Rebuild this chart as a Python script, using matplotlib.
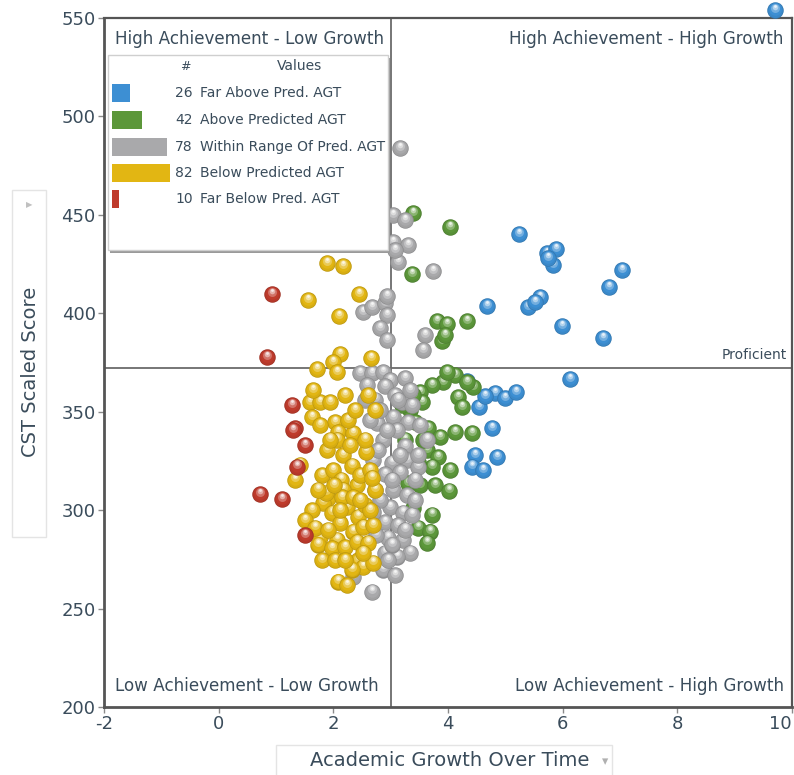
import numpy as np
import matplotlib
matplotlib.use("Agg")
import matplotlib.pyplot as plt
from matplotlib.transforms import ScaledTranslation
from matplotlib.patches import Rectangle
from matplotlib.colors import to_rgb

# ---------------- data ----------------
blue_x = [5.24, 5.73, 5.88, 5.83, 7.04, 6.81, 4.68, 5.40, 5.61, 5.99, 6.70, 6.13, 4.33,
          4.82, 5.00, 5.19, 4.54, 4.77, 4.47, 4.86, 4.42, 4.61, 9.70, 4.65, 5.75, 5.52]
blue_y = [440.1, 430.5, 432.5, 424.4, 421.8, 413.2, 403.6, 403.1, 408.1, 393.4, 387.3, 366.5, 365.5,
          359.4, 356.9, 359.9, 352.3, 341.6, 327.9, 326.9, 321.9, 320.3, 554.0, 357.9, 427.9, 405.6]

green_x = [3.39, 4.04, 3.37, 3.81, 3.98, 4.33, 3.90, 4.12, 3.91, 3.72, 3.51, 4.44, 4.18, 3.55,
           4.24, 3.34, 3.42, 3.65, 4.12, 4.42, 3.25, 3.63, 3.83, 3.72, 4.04, 3.30, 3.51, 3.77,
           4.02, 3.39, 3.72, 3.48, 3.69, 3.63, 4.33, 3.98, 3.86, 3.56, 3.39, 3.20, 3.95, 3.48]
green_y = [450.8, 443.7, 419.8, 396.0, 394.4, 396.0, 385.8, 368.5, 365.0, 363.5, 359.9, 362.5, 357.4, 354.8,
           352.3, 350.8, 344.7, 341.6, 339.6, 339.1, 335.6, 330.5, 326.9, 321.9, 320.3, 313.7, 312.7, 312.7,
           309.7, 301.0, 297.5, 290.9, 288.9, 283.3, 365.0, 370.1, 337.1, 335.6, 358.4, 353.3, 388.9, 324.4]

gray_x = [3.16, 3.04, 3.25, 3.04, 3.30, 3.13, 3.08, 3.74, 2.52, 2.67, 2.90, 2.94, 2.81, 2.94,
          3.60, 3.56, 2.47, 2.67, 2.87, 2.99, 3.25, 2.59, 2.90, 2.73, 3.20, 2.76, 3.04, 3.30,
          2.87, 3.25, 3.63, 2.69, 3.02, 3.29, 3.48, 2.64, 2.90, 3.16, 3.04, 3.29, 2.99, 3.22,
          2.90, 3.13, 2.95, 3.22, 3.34, 2.90, 3.11, 2.87, 2.67, 2.34, 2.94, 3.11, 3.42, 2.81,
          2.55, 3.08, 3.37, 2.78, 3.16, 2.73, 3.37, 3.02, 2.74, 3.08, 3.48, 3.34, 2.64, 2.94,
          3.25, 2.81, 3.42, 3.02, 2.69, 3.13, 3.51, 2.95]
gray_y = [483.8, 449.8, 447.2, 436.1, 434.5, 425.9, 432.0, 421.3, 400.5, 403.1, 405.1, 399.0, 392.4, 386.3,
          388.9, 381.2, 369.6, 369.6, 370.1, 366.0, 367.0, 363.5, 363.0, 355.9, 354.8, 344.2, 347.2, 344.7,
          335.6, 332.5, 335.6, 325.4, 323.9, 325.4, 321.9, 319.3, 318.3, 319.3, 310.2, 307.6, 301.5, 298.5,
          293.9, 292.4, 285.8, 284.8, 278.2, 278.2, 276.2, 269.6, 258.4, 266.0, 408.7, 340.6, 315.3, 350.8,
          355.9, 358.4, 353.3, 330.5, 327.9, 310.2, 297.5, 282.3, 287.3, 267.0, 327.9, 360.9, 345.7, 340.6,
          289.9, 305.1, 305.1, 315.3, 299.0, 355.9, 343.2, 274.6]

yellow_x = [1.89, 2.17, 1.56, 2.45, 2.10, 2.12, 2.00, 2.66, 1.72, 2.06, 2.61, 2.73, 1.59, 1.77,
            1.94, 1.63, 2.03, 2.08, 2.34, 2.06, 1.89, 2.57, 2.17, 2.33, 1.80, 2.00, 1.33, 2.13,
            2.41, 2.17, 2.73, 1.91, 1.82, 1.63, 1.98, 2.24, 2.43, 2.12, 1.77, 2.06, 2.34, 2.52,
            2.69, 1.73, 1.98, 2.20, 2.41, 2.61, 2.43, 2.52, 2.33, 2.69, 2.08, 2.24, 1.87, 1.51,
            1.68, 1.91, 2.52, 2.15, 2.34, 2.55, 2.47, 2.64, 2.26, 1.77, 1.94, 1.65, 2.38, 2.20,
            1.80, 2.03, 2.20, 2.64, 2.55, 1.42, 1.73, 2.01, 2.29, 2.67, 2.47, 2.12]
yellow_y = [425.4, 423.9, 406.6, 409.7, 398.5, 379.2, 375.1, 377.2, 371.6, 370.1, 358.4, 350.8, 354.8, 354.8,
            354.8, 347.2, 344.7, 339.6, 339.1, 335.6, 330.5, 329.5, 327.9, 322.4, 317.8, 320.3, 315.3, 315.3,
            312.7, 310.2, 310.2, 306.1, 303.6, 300.0, 298.5, 301.5, 296.5, 293.4, 286.3, 284.8, 288.9, 291.4,
            292.4, 282.3, 280.7, 281.2, 283.8, 283.3, 274.6, 271.1, 269.6, 273.1, 263.5, 261.9, 308.7, 294.9,
            290.9, 289.9, 278.2, 306.6, 306.6, 302.6, 317.8, 320.3, 345.7, 343.2, 335.6, 360.9, 350.8, 358.4,
            274.6, 274.6, 274.6, 300.0, 335.6, 322.9, 310.2, 312.7, 333.0, 316.3, 305.1, 300.0]

red_x = [0.93, 0.84, 1.28, 1.33, 1.51, 1.37, 0.72, 1.11, 1.51, 1.30]
red_y = [409.7, 377.7, 353.3, 341.6, 333.0, 321.9, 308.1, 305.6, 287.3, 340.6]

group_counts = [26, 42, 78, 82, 10]
group_labels = ["Far Above Pred. AGT", "Above Predicted AGT", "Within Range Of Pred. AGT",
                "Below Predicted AGT", "Far Below Pred. AGT"]
group_colors = ["#3d8fd3", "#5c973a", "#a9a9ab", "#e2b613", "#bf3b2c"]

proficient_cut = 372
growth_cut = 3
x_ticks = [-2, 0, 2, 4, 6, 8, 10]
y_ticks = [200, 250, 300, 350, 400, 450, 500, 550]

# ---------------- figure ----------------
W, H = 794, 775
fig = plt.figure(figsize=(W / 100, H / 100), dpi=100)
ax = fig.add_axes([104 / W, 68 / H, 688 / W, 689 / H])
ax.set_xlim(-2, 10)
ax.set_ylim(200, 550)
ax.set_autoscale_on(False)

txt = "#3a4c5b"


def mix(c, t):
    c = np.array(c)
    return tuple(c + (1 - c) * t)


def spheres(xs, ys, color, z):
    """Draw each point as a shaded ball: dark rim, body, and a soft highlight near the top."""
    base = np.array(to_rgb(color))
    layers = [
        (16.5, 0.0, tuple(base * 0.84)),
        (15.0, 0.5, tuple(base * 0.95)),
        (12.5, 1.4, tuple(base)),
        (9.0, 2.6, mix(base, 0.28)),
        (5.6, 3.6, mix(base, 0.60)),
        (2.8, 4.3, mix(base, 0.88)),
    ]
    for x, y in zip(xs, ys):
        for d, dy, c in layers:
            tr = ax.transData + ScaledTranslation(0, dy / 100, fig.dpi_scale_trans)
            ax.scatter([x], [y], s=(d * 0.72) ** 2, color=c, lw=0, transform=tr,
                       zorder=z, clip_on=False)


spheres(blue_x, blue_y, group_colors[0], 3)
spheres(green_x, green_y, group_colors[1], 4)
spheres(gray_x, gray_y, group_colors[2], 5)
spheres(yellow_x, yellow_y, group_colors[3], 6)
spheres(red_x, red_y, group_colors[4], 7)

# quadrant dividers
ax.axvline(growth_cut, color="#6b6b6b", lw=1.3, zorder=2)
ax.axhline(proficient_cut, color="#6b6b6b", lw=1.3, zorder=2)

# axes styling
for side in ["left", "bottom", "top", "right"]:
    ax.spines[side].set_color("#555555")
    ax.spines[side].set_linewidth(1.6)
ax.spines["left"].set_linewidth(2.0)
ax.spines["bottom"].set_linewidth(2.0)
ax.set_xticks(x_ticks)
ax.set_yticks(y_ticks)
ax.set_xticklabels([str(v) for v in x_ticks])
ax.tick_params(axis="both", colors="#8a8a8a", labelcolor=txt, labelsize=13,
               length=4, width=1, direction="out", pad=2)
# keep the last x label inside the canvas
last = ax.get_xticklabels()[-1]
last.set_transform(last.get_transform() + ScaledTranslation(-0.12, 0, fig.dpi_scale_trans))

# quadrant captions
qfont = dict(fontsize=12.1, color=txt, zorder=8)
ax.text(0.016, 0.983, "High Achievement - Low Growth", transform=ax.transAxes,
        ha="left", va="top", **qfont)
ax.text(0.988, 0.983, "High Achievement - High Growth", transform=ax.transAxes,
        ha="right", va="top", **qfont)
ax.text(0.016, 0.018, "Low Achievement - Low Growth", transform=ax.transAxes,
        ha="left", va="bottom", **qfont)
ax.text(0.988, 0.018, "Low Achievement - High Growth", transform=ax.transAxes,
        ha="right", va="bottom", **qfont)
ax.text(0.992, proficient_cut + 3, "Proficient", transform=ax.get_yaxis_transform(),
        ha="right", va="bottom", fontsize=10, color=txt, zorder=8)


# ---------------- legend panel ----------------
def fx(px):
    return px / W


def fy(py):
    return 1 - py / H


box_l, box_t, box_r, box_b = 108, 55, 388, 250
shadow = Rectangle((fx(box_l + 2), fy(box_b + 3)), (box_r - box_l) / W, (box_b - box_t) / H,
                   transform=fig.transFigure, fc="#9a9a9a", ec="none", zorder=10)
panel = Rectangle((fx(box_l), fy(box_b)), (box_r - box_l) / W, (box_b - box_t) / H,
                  transform=fig.transFigure, fc="white", ec="#cfcfcf", lw=1, zorder=11)
fig.add_artist(shadow)
fig.add_artist(panel)

fig.text(fx(185), fy(66), "#", ha="center", va="center", fontsize=9, color=txt, zorder=12)
fig.text(fx(300), fy(66), "Values", ha="center", va="center", fontsize=10, color=txt, zorder=12)

row_y = [93, 120, 147, 173, 199]
px_per_count = 0.71
for cnt, lab, col, ry in zip(group_counts, group_labels, group_colors, row_y):
    bar = Rectangle((fx(112), fy(ry + 9)), cnt * px_per_count / W, 18 / H,
                    transform=fig.transFigure, fc=col, ec="none", zorder=12)
    fig.add_artist(bar)
    fig.text(fx(193), fy(ry), str(cnt), ha="right", va="center", fontsize=10,
             color=txt, zorder=12)
    t = fig.text(fx(200), fy(ry), lab, ha="left", va="center", fontsize=10,
                 color=txt, zorder=12)
    t.set_clip_path(panel)

# ---------------- axis titles ----------------
xbox = Rectangle((fx(276), fy(782)), (612 - 276) / W, 37 / H, transform=fig.transFigure,
                 fc="none", ec="#e4e4e4", lw=1, zorder=1)
fig.add_artist(xbox)
fig.text(fx(450), fy(761), "Academic Growth Over Time", ha="center", va="center",
         fontsize=14, color=txt)
fig.text(fx(605), fy(762), "\u25BE", ha="center", va="center", fontsize=9, color="#b0b0b0")

ybox = Rectangle((fx(12), fy(537)), 34 / W, (537 - 190) / H, transform=fig.transFigure,
                 fc="none", ec="#e4e4e4", lw=1, zorder=1)
fig.add_artist(ybox)
fig.text(fx(31), fy(372), "CST Scaled Score", ha="center", va="center", rotation=90,
         fontsize=14, color=txt)
fig.text(fx(29), fy(205), "\u25B6", ha="center", va="center", fontsize=6, color="#c0c0c0")

fig.savefig("out.png", dpi=100)
